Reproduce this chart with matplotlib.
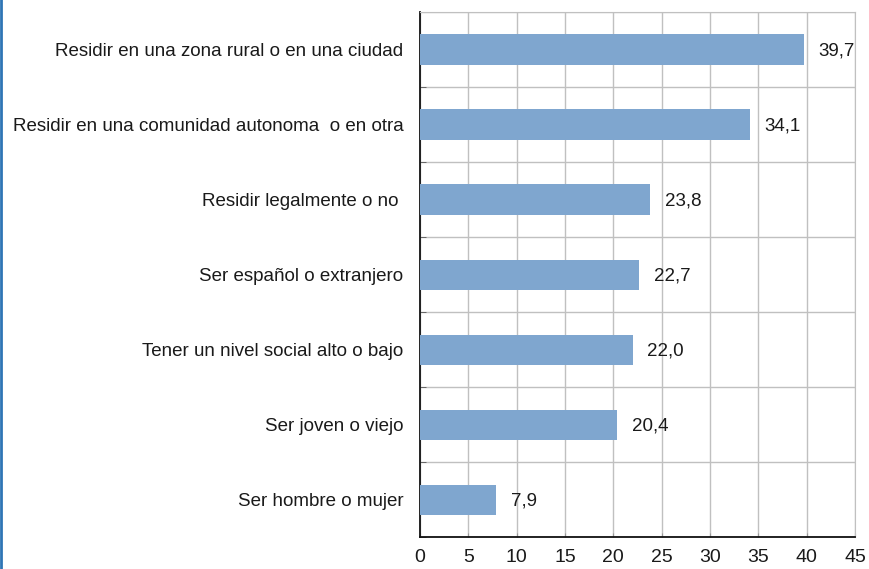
import matplotlib
matplotlib.use("Agg")
import matplotlib.pyplot as plt
from matplotlib.lines import Line2D
import numpy as np

plt.rcParams['font.family'] = ['Liberation Sans', 'DejaVu Sans']

categories = [
    "Residir en una zona rural o en una ciudad",
    "Residir en una comunidad autonoma  o en otra",
    "Residir legalmente o no ",
    "Ser español o extranjero",
    "Tener un nivel social alto o bajo",
    "Ser joven o viejo",
    "Ser hombre o mujer",
]
values = [39.7, 34.1, 23.8, 22.7, 22.0, 20.4, 7.9]
xticks = [0, 5, 10, 15, 20, 25, 30, 35, 40, 45]

bar_color = "#7fa6cf"
grid_color = "#c0c0c0"
text_color = "#1a1a1a"

fig = plt.figure(figsize=(8.69, 5.69), dpi=100)
ax = fig.add_axes([420/869, 1-537/569, 435/869, 525/569])

n = len(categories)
ypos = np.arange(n)[::-1]
ax.barh(ypos, values, height=0.4, color=bar_color, zorder=3)

for y, v in zip(ypos, values):
    ax.text(v + 1.5, y - 0.02, f"{v:.1f}".replace(".", ","), va="center", ha="left",
            fontsize=13.5, color=text_color, zorder=4)

ax.set_xlim(0, 45)
ax.set_ylim(-0.5, n - 0.5)
ax.set_xticks(xticks)
ax.set_xticklabels([str(t) for t in xticks], fontsize=14, color=text_color)
ax.set_yticks(ypos)
ax.set_yticklabels(categories, fontsize=13.5, color=text_color)
ax.set_yticks(np.arange(-0.5, n, 1), minor=True)

ax.tick_params(axis="y", which="major", length=0, pad=12)
ax.tick_params(axis="y", which="minor", length=4, direction="in", color="#555555")
ax.tick_params(axis="x", which="major", length=3, direction="in", color="#999999", pad=9)

ax.grid(axis="x", which="major", color=grid_color, linewidth=1, zorder=0)
ax.grid(axis="y", which="minor", color=grid_color, linewidth=1, zorder=0)

ax.spines["left"].set_color("#111111")
ax.spines["bottom"].set_color("#111111")
ax.spines["left"].set_linewidth(1.3)
ax.spines["bottom"].set_linewidth(1.3)
ax.spines["top"].set_color(grid_color)
ax.spines["right"].set_color(grid_color)

fig.add_artist(Line2D([0.0015, 0.0015], [0, 1], transform=fig.transFigure,
                      color="#2f75b5", linewidth=2))

fig.savefig("out.png", dpi=100)
